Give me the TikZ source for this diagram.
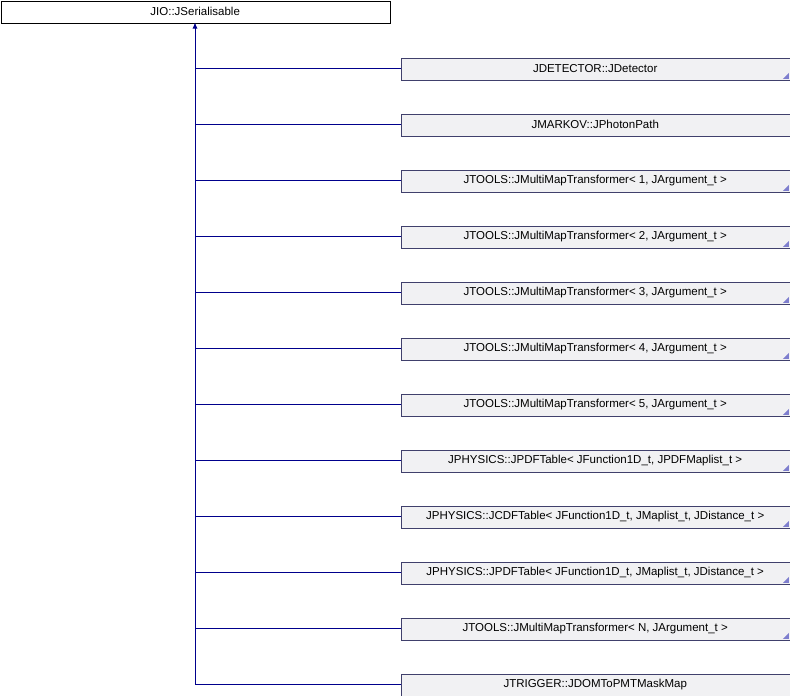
\documentclass[tikz,border=0pt]{standalone}
\usepackage{fontspec}
\setmainfont{Liberation Sans}
\usetikzlibrary{arrows.meta}
\begin{document}
\begin{tikzpicture}[x=1pt,y=-1pt,
  cls/.style={draw=black!65!blue!50!gray, fill=blue!6!gray!10, minimum width=389pt, minimum height=22pt, inner sep=0pt, anchor=north west, font=\fontsize{11.5}{13}\selectfont},
  base/.style={draw=black, fill=white, minimum width=389pt, minimum height=22pt, inner sep=0pt, anchor=north west, font=\fontsize{11.5}{13}\selectfont},
  edge/.style={draw=blue!55!black, line width=0.9pt},
  tri/.style={fill=blue!45!gray!70}]
\useasboundingbox (0,0) rectangle (790,696);
\node[base] (p) at (0.5,0.5) {JIO::JSerialisable};
\coordinate (top) at (195,22.5);
\foreach \i/\t/\m in {0/{JDETECTOR::JDetector}/1,1/{JMARKOV::JPhotonPath}/0,2/{JTOOLS::JMultiMapTransformer< 1, JArgument\_t >}/1,3/{JTOOLS::JMultiMapTransformer< 2, JArgument\_t >}/1,4/{JTOOLS::JMultiMapTransformer< 3, JArgument\_t >}/1,5/{JTOOLS::JMultiMapTransformer< 4, JArgument\_t >}/1,6/{JTOOLS::JMultiMapTransformer< 5, JArgument\_t >}/1,7/{JPHYSICS::JPDFTable< JFunction1D\_t, JPDFMaplist\_t >}/1,8/{JPHYSICS::JCDFTable< JFunction1D\_t, JMaplist\_t, JDistance\_t >}/1,9/{JPHYSICS::JPDFTable< JFunction1D\_t, JMaplist\_t, JDistance\_t >}/1,10/{JTOOLS::JMultiMapTransformer< N, JArgument\_t >}/1,11/{JTRIGGER::JDOMToPMTMaskMap}/0}{
  \node[cls] (c\i) at (400.5,{57.5+56*\i}) {\t};
  \ifnum\m=1 \fill[tri] (c\i.south east) ++(-1,-1) -- ++(-6,0) -- ++(6,-6) -- cycle; \fi
  \draw[edge] (c\i.west) -| (195,30);
}
\draw[edge,-{Latex[length=6pt,width=5pt]}] (195,40) -- (top);
\end{tikzpicture}
\end{document}
